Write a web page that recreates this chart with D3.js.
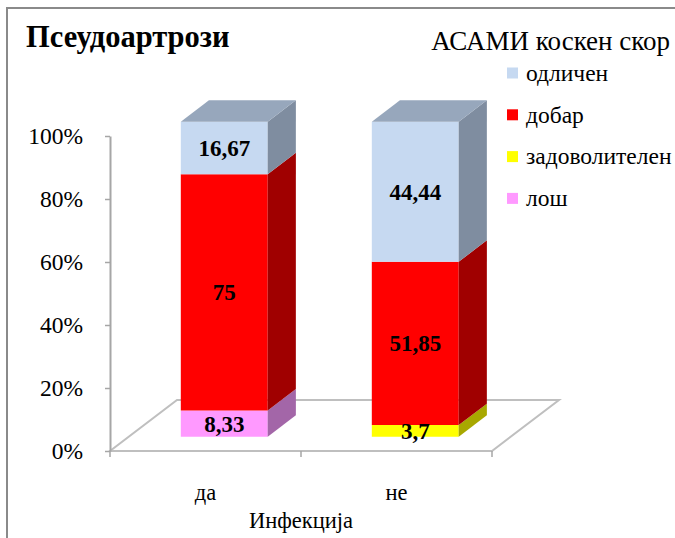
<!DOCTYPE html>
<html>
<head>
<meta charset="utf-8">
<script src="https://cdn.jsdelivr.net/npm/d3@7/dist/d3.min.js"></script>
<style>
  html, body { margin: 0; padding: 0; background: #fff; }
  svg text { font-family: "Liberation Serif", "Times New Roman", serif; }
</style>
</head>
<body>
<svg id="chart" width="675" height="538"></svg>
<script>
// Categories (infection yes / no) and ASAMI bone score shares, in percent
const categories = ["да", "не"];
const seriesNames = ["одличен", "добар", "задоволителен", "лош"];
const odlichen = [16.67, 44.44];
const dobar = [75, 51.85];
const zadovolitelen = [0, 3.7];
const losh = [8.33, 0];
const yTicks = [0, 20, 40, 60, 80, 100];

const titleText = "Псеудоартрози";
const legendTitle = "АСАМИ коскен скор";
const xTitle = "Инфекција";

const serif = "'Liberation Serif', 'Times New Roman', serif";

// colours: front face, side face
const frontColor = { "одличен": "#C6D9F1", "добар": "#FF0000", "задоволителен": "#FFFF00", "лош": "#FF99FF" };
const sideColor  = { "одличен": "#7F8DA0", "добар": "#A00000", "задоволителен": "#A8A800", "лош": "#A366A8" };
const topColor = "#97A7BC";

// stack order, bottom to top
const stackOrder = ["лош", "задоволителен", "добар", "одличен"];
const valuesBy = { "одличен": odlichen, "добар": dobar, "задоволителен": zadovolitelen, "лош": losh };
const rows = categories.map((c, i) => {
  const r = { cat: c };
  seriesNames.forEach(s => r[s] = valuesBy[s][i]);
  return r;
});
const stacked = d3.stack().keys(stackOrder)(rows);

const svg = d3.select("#chart");

// outer chart frame
svg.append("rect")
  .attr("x", 7).attr("y", 8).attr("width", 680).attr("height", 545)
  .attr("fill", "#fff").attr("stroke", "#8a8a8a").attr("stroke-width", 2);

// scales for the front plane of the floor
const x = d3.scaleBand().domain(categories).range([110, 492]);
const y = d3.scaleLinear().domain([0, 100]).range([451, 136]);
const depth = { dx: 67, dy: -51 };   // floor depth vector
const t0 = 0.28, t1 = 0.70;          // bar front / back depth fractions
const barFrac = 0.455;

function P(xf, v, t) { return [xf + t * depth.dx, y(v) + t * depth.dy]; }
const poly = pts => "M" + pts.map(p => p.join(",")).join("L") + "Z";

// floor
const fx0 = x.range()[0], fx1 = x.range()[1];
const floor = svg.append("g");
floor.append("path")
  .attr("d", poly([P(fx0, 0, 0), P(fx1, 0, 0), P(fx1, 0, 1), P(fx0, 0, 1)]))
  .attr("fill", "#fff").attr("stroke", "#BFBFBF").attr("stroke-width", 2);

// x ticks along the front edge
const xTickPos = [fx0, ...categories.slice(1).map(c => x(c)), fx1];
floor.selectAll("line.xt").data(xTickPos).join("line")
  .attr("x1", d => d).attr("x2", d => d)
  .attr("y1", y(0)).attr("y2", y(0) + 6)
  .attr("stroke", "#A6A6A6").attr("stroke-width", 1.5);

// y axis
const yAxis = d3.axisLeft(y).tickValues(yTicks).tickFormat(d => d + "%")
  .tickSizeInner(5).tickSizeOuter(0).tickPadding(22);
const ya = svg.append("g").attr("transform", `translate(${fx0},0)`).call(yAxis)
  .attr("font-family", serif).attr("font-size", 23.5);
ya.select(".domain").attr("stroke", "#A6A6A6").attr("stroke-width", 2);
ya.selectAll(".tick line").attr("stroke", "#A6A6A6").attr("stroke-width", 1.5);
ya.selectAll(".tick text").attr("fill", "#000");

// bars
const bw = x.bandwidth() * barFrac;
const barsG = svg.append("g");
const fmt = v => String(v).replace(".", ",");

categories.forEach((c, ci) => {
  const xl = x(c) + (x.bandwidth() - bw) / 2, xr = xl + bw;
  const g = barsG.append("g");
  stacked.forEach(layer => {
    const [v0, v1] = layer[ci];
    if (v1 - v0 <= 0) return;
    // front face
    g.append("path")
      .attr("d", poly([P(xl, v0, t0), P(xr, v0, t0), P(xr, v1, t0), P(xl, v1, t0)]))
      .attr("fill", frontColor[layer.key]);
    // side face
    g.append("path")
      .attr("d", poly([P(xr, v0, t0), P(xr, v0, t1), P(xr, v1, t1), P(xr, v1, t0)]))
      .attr("fill", sideColor[layer.key]);
  });
  // top face
  const vt = stacked[stacked.length - 1][ci][1];
  g.append("path")
    .attr("d", poly([P(xl, vt, t0), P(xr, vt, t0), P(xr, vt, t1), P(xl, vt, t1)]))
    .attr("fill", topColor);
  // value labels on the front faces
  stacked.forEach(layer => {
    const [v0, v1] = layer[ci];
    const val = valuesBy[layer.key][ci];
    if (val <= 0) return;
    const p = P((xl + xr) / 2, (v0 + v1) / 2, t0);
    g.append("text")
      .attr("x", p[0]).attr("y", p[1])
      .attr("text-anchor", "middle").attr("dy", "0.35em")
      .attr("font-family", serif)
      .attr("font-size", 23).attr("font-weight", "bold")
      .text(fmt(val));
  });
});

// category labels
svg.selectAll("text.cat").data(categories).join("text")
  .attr("class", "cat")
  .attr("x", d => x(d) + x.bandwidth() / 2)
  .attr("y", 500)
  .attr("text-anchor", "middle").attr("font-family", serif).attr("font-size", 22.5)
  .text(d => d);

svg.append("text").attr("x", (fx0 + fx1) / 2).attr("y", 528)
  .attr("text-anchor", "middle").attr("font-family", serif).attr("font-size", 22.5).text(xTitle);

// title
svg.append("text").attr("x", 26).attr("y", 47)
  .attr("font-family", serif)
  .attr("font-size", 30.5).attr("font-weight", "bold").text(titleText);

// legend
const lg = svg.append("g").attr("font-family", serif);
lg.append("text").attr("x", 670).attr("y", 50).attr("text-anchor", "end")
  .attr("font-size", 27).text(legendTitle);
const legendRows = lg.selectAll("g.item").data(seriesNames).join("g")
  .attr("class", "item")
  .attr("transform", (d, i) => `translate(507, ${73 + i * 41.8})`);
legendRows.append("rect").attr("x", 0).attr("y", -5.5).attr("width", 11).attr("height", 11)
  .attr("fill", d => frontColor[d]);
legendRows.append("text").attr("x", 19).attr("dy", "0.33em").attr("font-size", 23.5)
  .text(d => d);
</script>
</body>
</html>
